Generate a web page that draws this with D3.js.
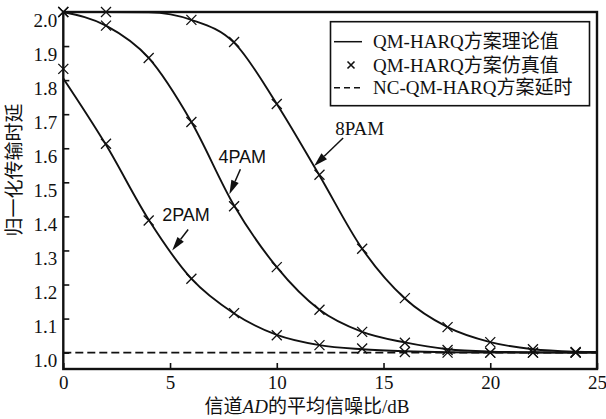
<!DOCTYPE html>
<html>
<head>
<meta charset="utf-8">
<script src="https://cdn.jsdelivr.net/npm/d3@7"></script>
<style>
  html, body { margin: 0; padding: 0; background: #fff; }
  svg { display: block; }
  text { font-family: "Liberation Serif", "Times New Roman", "Noto Sans CJK SC", serif; fill: #111; }
</style>
</head>
<body>
<svg id="chart" width="606" height="419"></svg>
<script>
// SNR grid (dB) for simulated points and theoretical curves
const snr = [0, 2, 4, 6, 8, 10, 12, 14, 16, 18, 20, 22, 24];
const theorySnr = [0, 2, 4, 6, 8, 10, 12, 14, 16, 18, 20, 22, 24, 25];

// Theoretical normalized transmission delay
const theory2PAM = [1.805, 1.61, 1.39, 1.217, 1.115, 1.052, 1.022, 1.01, 1.004, 1.001, 1.0, 1.0, 1.0, 1.0];
const theory4PAM = [2.0, 1.96, 1.865, 1.677, 1.432, 1.251, 1.126, 1.061, 1.03, 1.01, 1.003, 1.001, 1.0, 1.0];
const theory8PAM = [2.0, 2.0, 1.999, 1.977, 1.91, 1.73, 1.52, 1.305, 1.159, 1.075, 1.031, 1.01, 1.003, 1.002];

// Simulated normalized transmission delay (null = no point)
const sim2PAM = [1.833, 1.613, 1.388, 1.217, 1.116, 1.051, 1.022, 1.012, 1.002, 1.0, 1.0, 1.0, 1.0];
const sim4PAM = [2.0, 1.96, 1.865, 1.677, 1.43, 1.251, 1.126, 1.061, 1.029, 1.008, 1.0, 1.0, 1.0];
const sim8PAM = [2.0, 2.0, null, 1.977, 1.912, 1.73, 1.522, 1.305, 1.16, 1.075, 1.031, 1.01, 1.002];

// NC-QM-HARQ delay baseline
const ncDelay = 1.0;

const xTicks = [0, 5, 10, 15, 20, 25];
const yTicks = [1.0, 1.1, 1.2, 1.3, 1.4, 1.5, 1.6, 1.7, 1.8, 1.9, 2.0];

const legendLabels = ["QM-HARQ方案理论值", "QM-HARQ方案仿真值", "NC-QM-HARQ方案延时"];
const curveLabels = ["2PAM", "4PAM", "8PAM"];

const svg = d3.select("#chart");
const plot = { left: 63.3, right: 597, top: 12, bottom: 369 };

const x = d3.scaleLinear().domain([0, 25]).range([plot.left, plot.right]);
const y = d3.scaleLinear().domain([0.952, 2.0]).range([plot.bottom, plot.top]);

const FS = 19;

// Axes with inward ticks
const xAxis = svg.append("g")
  .attr("transform", `translate(0,${plot.bottom})`)
  .call(d3.axisBottom(x).tickValues(xTicks).tickSize(-6).tickPadding(7).tickFormat(d3.format("d")));
const yAxis = svg.append("g")
  .attr("transform", `translate(${plot.left},0)`)
  .call(d3.axisLeft(y).tickValues(yTicks).tickSize(-6).tickPadding(6).tickFormat(d3.format(".1f")));

[xAxis, yAxis].forEach(g => {
  g.select(".domain").remove();
  g.selectAll(".tick line").attr("stroke", "#111").attr("stroke-width", 1.6);
  g.selectAll(".tick text").attr("font-size", FS).attr("font-family", null).style("fill", "#111");
});
yAxis.selectAll(".tick text").attr("y", 8);

// Plot frame
svg.append("rect")
  .attr("x", plot.left).attr("y", plot.top)
  .attr("width", plot.right - plot.left).attr("height", plot.bottom - plot.top)
  .attr("fill", "none").attr("stroke", "#111").attr("stroke-width", 2.4);

// NC-QM-HARQ baseline
svg.append("line")
  .attr("x1", x(0)).attr("x2", x(25))
  .attr("y1", y(ncDelay)).attr("y2", y(ncDelay))
  .attr("stroke", "#111").attr("stroke-width", 1.8)
  .attr("stroke-dasharray", "8,4");

// Theoretical curves
const line = d3.line()
  .x((d, i) => x(theorySnr[i]))
  .y(d => y(d))
  .curve(d3.curveMonotoneX);

[theory2PAM, theory4PAM, theory8PAM].forEach(series => {
  svg.append("path")
    .attr("d", line(series))
    .attr("fill", "none")
    .attr("stroke", "#111")
    .attr("stroke-width", 1.9);
});

// Simulated points as x markers
const cross = r => `M${-r},${-r}L${r},${r}M${-r},${r}L${r},${-r}`;
[sim2PAM, sim4PAM, sim8PAM].forEach(series => {
  const pts = series.map((v, i) => ({ s: snr[i], v })).filter(d => d.v !== null);
  svg.append("g").selectAll("path")
    .data(pts)
    .join("path")
    .attr("transform", d => `translate(${x(d.s)},${y(d.v)})`)
    .attr("d", cross(5))
    .attr("fill", "none")
    .attr("stroke", "#111")
    .attr("stroke-width", 1.3);
});

// Curve annotations with filled arrowheads
const annotations = [
  { label: curveLabels[0], tip: [5.1, 1.30], tail: [16, -21], text: [-10, -29], font: "Liberation Sans, Arial, sans-serif", size: 18 },
  { label: curveLabels[1], tip: [7.78, 1.465], tail: [11, -25], text: [-11, -31], font: "Liberation Sans, Arial, sans-serif", size: 18 },
  { label: curveLabels[2], tip: [11.75, 1.548], tail: [29, -28], text: [21, -31], font: null, size: FS }
];
annotations.forEach(a => {
  const tx = x(a.tip[0]), ty = y(a.tip[1]);
  const sx = tx + a.tail[0], sy = ty + a.tail[1];
  const ang = Math.atan2(ty - sy, tx - sx);
  const L = 14, W = 4;
  const bx = tx - L * Math.cos(ang), by = ty - L * Math.sin(ang);
  svg.append("line")
    .attr("x1", sx).attr("y1", sy).attr("x2", bx).attr("y2", by)
    .attr("stroke", "#111").attr("stroke-width", 1.5);
  svg.append("path")
    .attr("d", `M${tx},${ty}L${bx + W * Math.sin(ang)},${by - W * Math.cos(ang)}L${bx - W * Math.sin(ang)},${by + W * Math.cos(ang)}Z`)
    .attr("fill", "#111");
  const t = svg.append("text")
    .attr("x", tx + a.text[0]).attr("y", ty + a.text[1])
    .attr("font-size", a.size)
    .text(a.label);
  if (a.font) t.style("font-family", a.font);
});

// Legend
const lg = svg.append("g");
lg.append("rect")
  .attr("x", 330.5).attr("y", 21.7).attr("width", 259).attr("height", 84)
  .attr("fill", "#fff").attr("stroke", "#111").attr("stroke-width", 1.6);
const rowY = [41.7, 65, 87.7];
lg.append("line").attr("x1", 334).attr("x2", 362).attr("y1", rowY[0]).attr("y2", rowY[0])
  .attr("stroke", "#111").attr("stroke-width", 1.5);
lg.append("path").attr("transform", `translate(351,${rowY[1]})`).attr("d", cross(3.5))
  .attr("stroke", "#111").attr("stroke-width", 1.6).attr("fill", "none");
lg.append("line").attr("x1", 334).attr("x2", 364).attr("y1", rowY[2]).attr("y2", rowY[2])
  .attr("stroke", "#111").attr("stroke-width", 1.6).attr("stroke-dasharray", "6,4");
legendLabels.forEach((t, i) => {
  lg.append("text")
    .attr("x", 373).attr("y", rowY[i]).attr("dy", "0.35em")
    .attr("font-size", FS)
    .text(t);
});

// Axis titles
const xt = svg.append("text")
  .attr("x", 307).attr("y", 413)
  .attr("text-anchor", "middle")
  .attr("font-size", FS);
xt.append("tspan").text("信道");
xt.append("tspan").attr("font-style", "italic").text("AD");
xt.append("tspan").text("的平均信噪比/dB");

svg.append("text")
  .attr("transform", "translate(14,170) rotate(-90)")
  .attr("text-anchor", "middle")
  .attr("dy", "0.35em")
  .attr("font-size", FS)
  .text("归一化传输时延");
</script>
</body>
</html>
